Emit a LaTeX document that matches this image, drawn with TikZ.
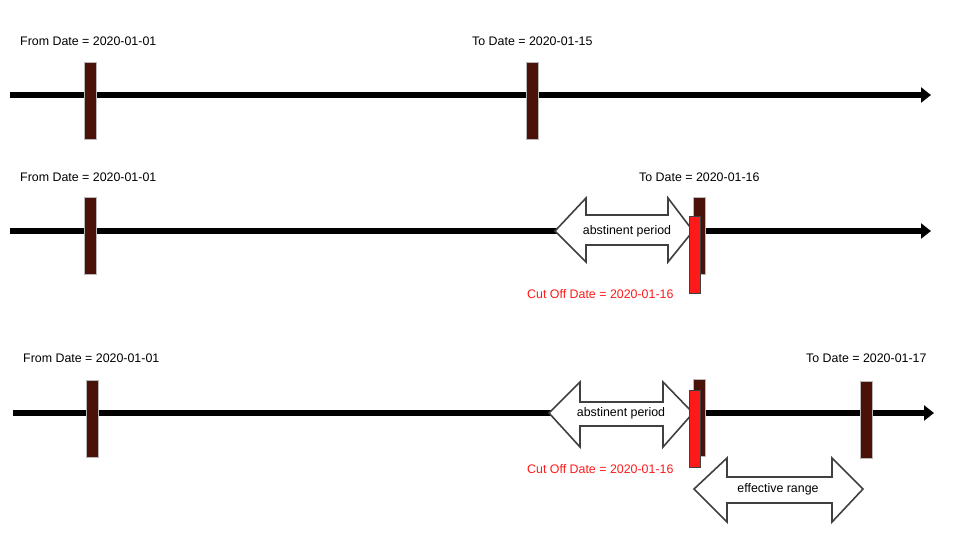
\documentclass[tikz,border=0pt]{standalone}
\usepackage{fontspec}
\setmainfont{Liberation Sans}
\usetikzlibrary{arrows.meta}
\definecolor{mark}{HTML}{4A1208}
\definecolor{cutred}{HTML}{FF1A1A}
\definecolor{edge}{HTML}{404040}
\tikzset{
  lbl/.style={font=\fontsize{12.4}{14}\selectfont, inner sep=0pt, anchor=west},
  timeline/.style={line width=5.5pt, -{Triangle[length=10pt,width=15pt]}},
  datemark/.style={rectangle, fill=mark, draw=gray!55, line width=1pt, minimum width=12pt, minimum height=77pt, inner sep=0pt},
  cutmark/.style={rectangle, fill=cutred, draw=edge, line width=1pt, minimum width=11pt, minimum height=77pt, inner sep=0pt},
  dblarrow/.style={fill=white, draw=edge, line width=1.6pt, line join=miter},
  arrtext/.style={font=\fontsize{12.4}{14}\selectfont, inner sep=0pt}
}
\begin{document}
\begin{tikzpicture}[x=1pt,y=-1pt]
\useasboundingbox (0,0) rectangle (963,536);
% ---------- row 1 ----------
\coordinate (l1s) at (10,95);
\coordinate (l1e) at (931,95);
\draw[timeline] (l1s) -- (l1e);
\node[datemark] (m11) at (90,100.5) {};
\node[datemark] (m12) at (532.5,100.5) {};
\node[lbl] (t11) at (20,41) {From Date = 2020-01-01};
\node[lbl] (t12) at (472,41) {To Date = 2020-01-15};
% ---------- row 2 ----------
\coordinate (l2s) at (10,231);
\coordinate (l2e) at (931,231);
\draw[timeline] (l2s) -- (l2e);
\node[datemark] (m21) at (90,236) {};
\draw[dblarrow] (555,231) -- (586,198) -- (586,215) -- (668,215) -- (668,198) -- (693,231)
  -- (668,262) -- (668,245) -- (586,245) -- (586,262) -- cycle;
\node[arrtext] (a2) at (627,231) {abstinent period};
\node[datemark] (m22) at (699.5,236) {};
\node[cutmark] (c2) at (694.5,254.5) {};
\node[lbl] (t21) at (20,177) {From Date = 2020-01-01};
\node[lbl] (t22) at (639,177) {To Date = 2020-01-16};
\node[lbl, text=cutred] (tc2) at (527,294) {Cut Off Date = 2020-01-16};
% ---------- row 3 ----------
\coordinate (l3s) at (13,413);
\coordinate (l3e) at (934,413);
\draw[timeline] (l3s) -- (l3e);
\node[datemark] (m31) at (92,419) {};
\draw[dblarrow] (549,413) -- (580,382) -- (580,402) -- (663,402) -- (663,382) -- (693,413)
  -- (663,447) -- (663,426) -- (580,426) -- (580,447) -- cycle;
\node[arrtext] (a3) at (621,413) {abstinent period};
\node[datemark] (m32) at (699.5,418) {};
\node[cutmark] (c3) at (694.5,429) {};
\node[datemark] (m33) at (866.5,420) {};
\draw[dblarrow] (694,489) -- (727,458) -- (727,477) -- (832,477) -- (832,458) -- (863,489)
  -- (832,522) -- (832,503) -- (727,503) -- (727,522) -- cycle;
\node[arrtext] (a4) at (778,489) {effective range};
\node[lbl] (t31) at (23,358) {From Date = 2020-01-01};
\node[lbl] (t32) at (806,358) {To Date = 2020-01-17};
\node[lbl, text=cutred] (tc3) at (527,469) {Cut Off Date = 2020-01-16};
\end{tikzpicture}
\end{document}
